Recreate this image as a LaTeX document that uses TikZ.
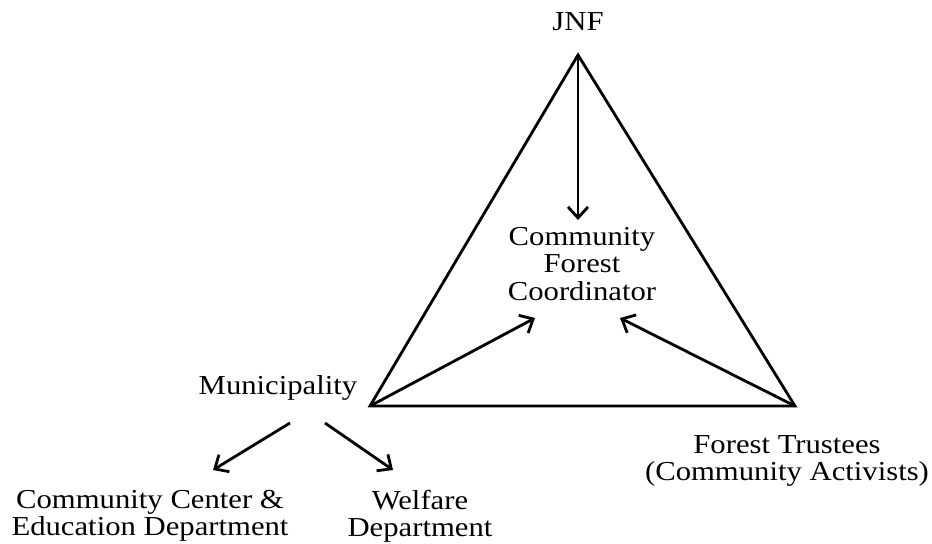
\documentclass[tikz,border=0pt]{standalone}
\usepackage{fontspec}
\setmainfont[FakeStretch=1.12]{Liberation Serif}
\usetikzlibrary{arrows.meta}
\begin{document}
\begin{tikzpicture}[x=1bp,y=-1bp,
  lbl/.style={align=center,inner sep=0pt,font=\fontsize{27.5}{27.5}\selectfont},
  edge/.style={line width=2.8bp},
  arr/.style={edge,-{Straight Barb[length=11bp,width=20bp,line width=2.8bp]}}]
\useasboundingbox (0,0) rectangle (932,544);
% corners of the triangle
\coordinate (top) at (578,55);
\coordinate (bl) at (370,406);
\coordinate (br) at (795,406);
\draw[edge,line join=miter] (top) -- (bl) -- (br) -- cycle;
% labels
\node[lbl] (jnf) at (578,22) {JNF};
\node[lbl] (cfc) at (582,264) {Community\\Forest\\Coordinator};
\node[lbl] (mun) at (278,388) {Municipality};
\node[lbl] (ft) at (787,461) {Forest Trustees\\(Community Activists)};
\node[lbl] (cce) at (150,516) {Community Center \&\\Education Department};
\node[lbl] (wel) at (420,516) {Welfare\\Department};
% arrow end points
\coordinate (cfcT) at (578,220);
\coordinate (cfcL) at (535,318);
\coordinate (cfcR) at (620,318);
\coordinate (munA) at (290,423);
\coordinate (munB) at (325,423);
\coordinate (cceT) at (213,470);
\coordinate (welT) at (393,470);
% arrows
\draw[arr] (top) -- (cfcT);
\draw[arr] (bl) -- (cfcL);
\draw[arr] (br) -- (cfcR);
\draw[arr] (munA) -- (cceT);
\draw[arr] (munB) -- (welT);
\end{tikzpicture}
\end{document}
